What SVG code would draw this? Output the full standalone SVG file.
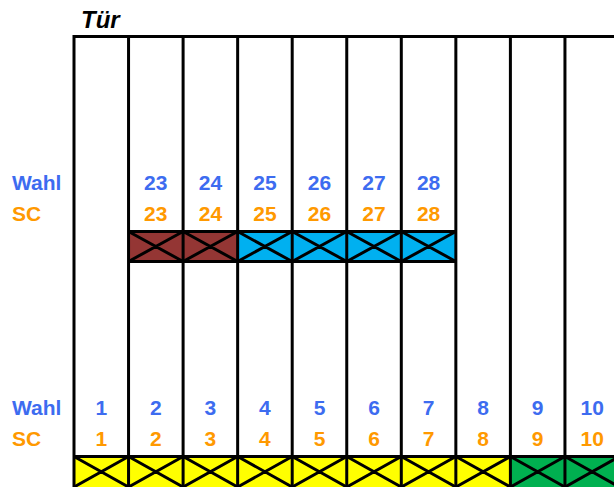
<svg xmlns="http://www.w3.org/2000/svg" width="614" height="487" viewBox="0 0 614 487">
<style>
.t{font-family:"Liberation Sans",Arial,sans-serif;font-weight:bold;font-size:21px}
.w{fill:#3d6cf0}
.s{fill:#ff9900}
.n{text-anchor:middle}
.ln{stroke:#000;stroke-width:3;fill:none}
.br{fill:#943634}
.cy{fill:#00b0f0}
.ye{fill:#ffff00}
.gr{fill:#00b050}
</style>
<rect width="614" height="487" fill="#fff"/>
<text x="81" y="28" class="t" style="font-size:24px;font-style:italic" fill="#000">Tür</text>
<g id="labels">
<text x="12" y="190" class="t w">Wahl</text>
<text x="12" y="221" class="t s">SC</text>
<text x="12" y="415" class="t w">Wahl</text>
<text x="12" y="446" class="t s">SC</text>
</g>
<g id="upper-row">
<rect x="128.55" y="231.5" width="54.55" height="30" class="br"/>
<rect x="183.1" y="231.5" width="54.55" height="30" class="br"/>
<rect x="237.65" y="231.5" width="54.55" height="30" class="cy"/>
<rect x="292.2" y="231.5" width="54.55" height="30" class="cy"/>
<rect x="346.75" y="231.5" width="54.55" height="30" class="cy"/>
<rect x="401.3" y="231.5" width="54.55" height="30" class="cy"/>
<path class="ln" d="M128.55 231.5L183.1 261.5M183.1 231.5L128.55 261.5M183.1 231.5L237.65 261.5M237.65 231.5L183.1 261.5M237.65 231.5L292.2 261.5M292.2 231.5L237.65 261.5M292.2 231.5L346.75 261.5M346.75 231.5L292.2 261.5M346.75 231.5L401.3 261.5M401.3 231.5L346.75 261.5M401.3 231.5L455.85 261.5M455.85 231.5L401.3 261.5"/>
<path class="ln" d="M128.55 231.5H455.85M128.55 261.5H455.85"/>
<g class="n">
<text x="155.8" y="190" class="t w">23</text>
<text x="210.4" y="190" class="t w">24</text>
<text x="264.9" y="190" class="t w">25</text>
<text x="319.5" y="190" class="t w">26</text>
<text x="374" y="190" class="t w">27</text>
<text x="428.6" y="190" class="t w">28</text>
<text x="155.8" y="221" class="t s">23</text>
<text x="210.4" y="221" class="t s">24</text>
<text x="264.9" y="221" class="t s">25</text>
<text x="319.5" y="221" class="t s">26</text>
<text x="374" y="221" class="t s">27</text>
<text x="428.6" y="221" class="t s">28</text>
</g>
</g>
<g id="lower-row">
<rect x="74" y="456.5" width="436.4" height="31" class="ye"/>
<rect x="510.4" y="456.5" width="109.1" height="31" class="gr"/>
<path class="ln" d="M74 456.5L128.55 487M128.55 456.5L74 487M128.55 456.5L183.1 487M183.1 456.5L128.55 487M183.1 456.5L237.65 487M237.65 456.5L183.1 487M237.65 456.5L292.2 487M292.2 456.5L237.65 487M292.2 456.5L346.75 487M346.75 456.5L292.2 487M346.75 456.5L401.3 487M401.3 456.5L346.75 487M401.3 456.5L455.85 487M455.85 456.5L401.3 487M455.85 456.5L510.4 487M510.4 456.5L455.85 487M510.4 456.5L564.95 487M564.95 456.5L510.4 487M564.95 456.5L619.5 487M619.5 456.5L564.95 487"/>
<path class="ln" d="M74 456.5H614"/>
<g class="n">
<text x="101.3" y="415" class="t w">1</text>
<text x="155.8" y="415" class="t w">2</text>
<text x="210.4" y="415" class="t w">3</text>
<text x="264.9" y="415" class="t w">4</text>
<text x="319.5" y="415" class="t w">5</text>
<text x="374" y="415" class="t w">6</text>
<text x="428.6" y="415" class="t w">7</text>
<text x="483.1" y="415" class="t w">8</text>
<text x="537.7" y="415" class="t w">9</text>
<text x="592.2" y="415" class="t w">10</text>
<text x="101.3" y="446" class="t s">1</text>
<text x="155.8" y="446" class="t s">2</text>
<text x="210.4" y="446" class="t s">3</text>
<text x="264.9" y="446" class="t s">4</text>
<text x="319.5" y="446" class="t s">5</text>
<text x="374" y="446" class="t s">6</text>
<text x="428.6" y="446" class="t s">7</text>
<text x="483.1" y="446" class="t s">8</text>
<text x="537.7" y="446" class="t s">9</text>
<text x="592.2" y="446" class="t s">10</text>
</g>
</g>
<g id="grid">
<path class="ln" d="M72.5 36.5H614M74 36.5V487M128.55 36.5V487M183.1 36.5V487M237.65 36.5V487M292.2 36.5V487M346.75 36.5V487M401.3 36.5V487M455.85 36.5V487M510.4 36.5V487M564.95 36.5V487"/>
</g>
</svg>
